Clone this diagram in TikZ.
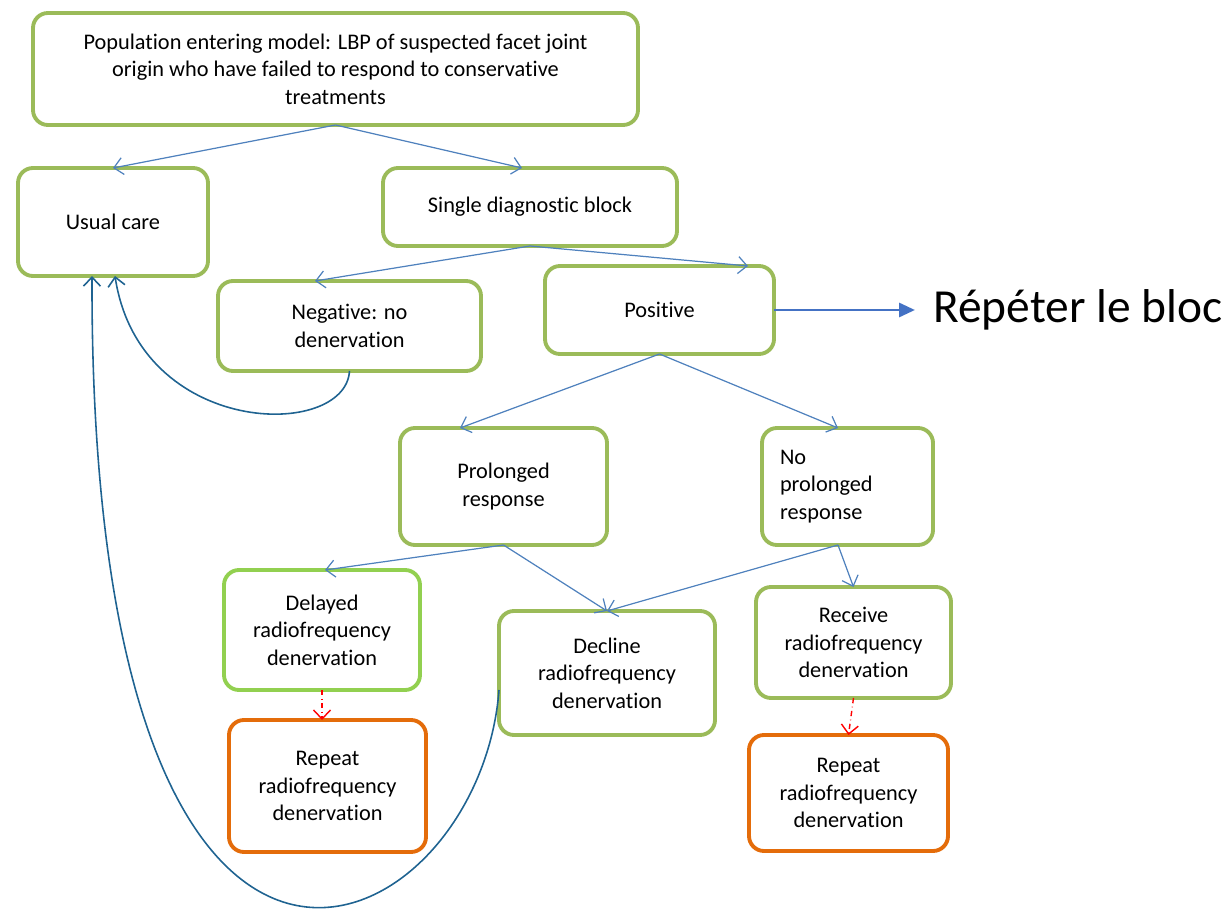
\documentclass[tikz,border=0pt]{standalone}
\usepackage{fontspec}
\setmainfont{Carlito}[Ligatures={NoCommon}]
\usepackage{xcolor}
\usetikzlibrary{positioning,arrows.meta}

\definecolor{boxgreen}{HTML}{9BBB59}
\definecolor{lightgreen}{HTML}{92D050}
\definecolor{boxorange}{HTML}{E46C0A}
\definecolor{linkblue}{HTML}{4F81BD}
\definecolor{loopblue}{HTML}{1F6391}
\definecolor{noteblue}{HTML}{4472C4}

\begin{document}
\begin{tikzpicture}[
    >={Straight Barb[length=1.8mm,width=3.4mm]},
    boxstyle/.style={draw,line width=2.2pt,rounded corners=3mm,outer sep=0pt,align=center,font=\fontsize{12.7}{15.7}\selectfont},
    greenbox/.style={boxstyle,draw=boxgreen},
    brightbox/.style={boxstyle,draw=lightgreen},
    orangebox/.style={boxstyle,draw=boxorange},
    arr/.style={->,linkblue,line width=0.7pt},
    backarr/.style={->,loopblue,line width=0.9pt},
    redarr/.style={->,red,dash dot,line width=0.8pt},
    notearr/.style={-{Triangle[length=3.2mm,width=2.8mm]},noteblue,line width=1.7pt}
]
\useasboundingbox (0,0) rectangle (246.2mm,-183.4mm);

\node[greenbox,anchor=north west,minimum width=121mm,minimum height=22.4mm] (pop) at (6.6mm,-2.6mm)
  {Population entering model: LBP of suspected facet joint\\ origin who have failed to respond to conservative\\ treatments};
\node[greenbox,below right=8.6mm and -3mm of pop.south west,minimum width=38mm,minimum height=21.6mm] (usual) {Usual care};
\node[greenbox,below right=0mm and 35mm of usual.north east,minimum width=58.8mm,minimum height=15.6mm] (single) {Single diagnostic block};
\node[greenbox,below right=1mm and 2mm of usual.south east,minimum width=52.6mm,minimum height=18mm] (neg) {Negative: no\\ denervation};
\node[greenbox,below right=4mm and 32.4mm of single.south west,minimum width=45.8mm,minimum height=17.6mm] (pos) {Positive};
\node[right=28.2mm of pos,inner xsep=3.6mm,inner ysep=0pt,font=\fontsize{27}{30}\selectfont] (bloc) {Répéter le bloc};

\node[greenbox,below right=14.8mm and -29mm of pos.south west,minimum width=41.4mm,minimum height=23.4mm] (prolonged) {Prolonged\\ response};
\node[greenbox,below right=0mm and 31mm of prolonged.north east,minimum width=34.2mm,minimum height=23.4mm,text width=27mm,align=left] (noprol) {No\\ prolonged\\ response};

\node[brightbox,below right=5mm and -35.2mm of prolonged.south west,minimum width=39.2mm,minimum height=24mm] (delayed) {Delayed\\ radiofrequency\\ denervation};
\node[greenbox,below right=13.2mm and 19.8mm of prolonged.south west,minimum width=43.2mm,minimum height=24.8mm] (decline) {Decline\\ radiofrequency\\ denervation};
\node[greenbox,below right=8.4mm and -1.2mm of noprol.south west,minimum width=39mm,minimum height=22.2mm] (receive) {Receive\\ radiofrequency\\ denervation};

\node[orangebox,below right=6mm and 1mm of delayed.south west,minimum width=39.4mm,minimum height=26.4mm] (repeatA) {Repeat\\ radiofrequency\\ denervation};
\node[orangebox,below right=7.4mm and -1.4mm of receive.south west,minimum width=39.8mm,minimum height=23.2mm] (repeatB) {Repeat\\ radiofrequency\\ denervation};

\draw[arr] (pop.south) -- (usual.north);
\draw[arr] (pop.south) -- ([xshift=-1.6mm]single.north);
\draw[arr] (single.south) -- ([xshift=-6.9mm]neg.north);
\draw[arr] (single.south) -- ([xshift=-5.2mm]pos.north east);
\draw[arr] (pos.south) -- ([xshift=-8.7mm]prolonged.north);
\draw[arr] (pos.south) -- ([xshift=-1.9mm]noprol.north);
\draw[arr] (prolonged.south) -- ([xshift=0.6mm]delayed.north);
\draw[arr] (prolonged.south) -- (decline.north);
\draw[arr] ([xshift=-1.9mm]noprol.south) -- (decline.north);
\draw[arr] ([xshift=-1.9mm]noprol.south) -- (receive.north);
\draw[notearr] (pos) -- (bloc);

\draw[redarr] (delayed.south) -- (delayed.south |- repeatA.north);
\draw[redarr] (receive.south) -- (repeatB.north);

% back to usual care
\draw[backarr] (neg.south) .. controls +(-0.8mm,-13.8mm) and +(5mm,-32.4mm) .. ([xshift=0.4mm]usual.south);
\draw[backarr] ([yshift=-3.4mm]decline.west) .. controls +(-4mm,-52mm) and +(-0.4mm,-172mm) .. ([xshift=-4.2mm]usual.south);
\end{tikzpicture}
\end{document}
